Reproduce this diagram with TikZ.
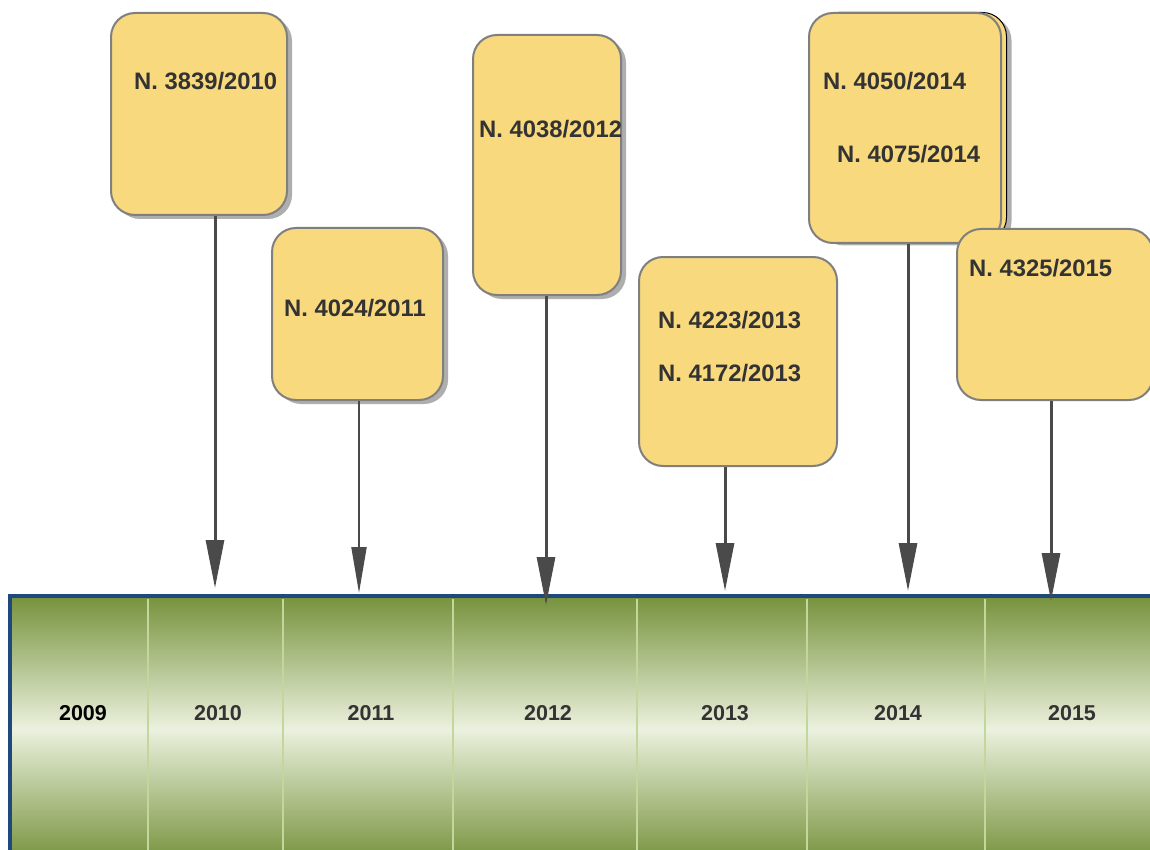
\documentclass[tikz,border=0pt]{standalone}
\usepackage{fontspec}
\setmainfont{Liberation Sans}
\usetikzlibrary{arrows.meta,shadows}
\definecolor{boxfill}{HTML}{F9D97E}
\definecolor{boxline}{HTML}{7F7F7F}
\definecolor{arr}{HTML}{4A4A4A}
\definecolor{barblue}{HTML}{1F497D}
\definecolor{bargreen}{HTML}{76923C}
\definecolor{barpale}{HTML}{EBF1DE}
\definecolor{divline}{HTML}{C3D69B}
\definecolor{txt}{HTML}{333333}
\tikzset{
  cardbox/.style={draw=boxline, line width=2pt, fill=boxfill, rounded corners=24pt,
    inner sep=0pt, anchor=north west},
  cardshadow/.style={drop shadow={shadow xshift=5pt, shadow yshift=-4pt, fill=gray!70, opacity=0.9}},
  backcard/.style={draw=black, line width=1pt, fill=boxfill, rounded corners=24pt,
    inner sep=0pt, anchor=north west},
  ntext/.style={text=txt, font=\bfseries\fontsize{23.8}{28}\selectfont, anchor=west, inner sep=0pt},
  ytext/.style={text=txt, font=\bfseries\fontsize{21.5}{25}\selectfont, inner sep=0pt},
  conn/.style={draw=arr, line width=3pt, -{Triangle[length=48pt,width=18pt]}},
  connthin/.style={draw=arr, line width=2pt, -{Triangle[length=46pt,width=15pt]}},
  divider/.style={draw=divline, line width=1.2pt}
}
\begin{document}
\begin{tikzpicture}[x=1pt,y=-1pt]
\clip (0,0) rectangle (1150,850);
\fill[white] (0,0) rectangle (1150,850);

% timeline bar
\path[top color=bargreen, bottom color=bargreen, middle color=barpale] (10,596) rectangle (1165,862);
\foreach \x in {148,283,453,637,807,985}{\draw[divider] (\x,599) -- (\x,850);}
\draw[barblue, line width=4pt] (10,870) -- (10,596) -- (1165,596);

% year labels
\node[ytext, text=black] (y2009) at (83,713) {2009};
\node[ytext] (y2010) at (218,713) {2010};
\node[ytext] (y2011) at (371,713) {2011};
\node[ytext] (y2012) at (548,713) {2012};
\node[ytext] (y2013) at (725,713) {2013};
\node[ytext] (y2014) at (898,713) {2014};
\node[ytext] (y2015) at (1072,713) {2015};

% arrow end points
\coordinate (e2010) at (215,588);
\coordinate (e2011) at (359,593);
\coordinate (e2012) at (546,605);
\coordinate (e2013) at (725,591);
\coordinate (e2014) at (908,591);
\coordinate (e2015) at (1051,601);

% cards
\node[cardbox, cardshadow, minimum width=176pt, minimum height=202pt] (b2010) at (110,12) {};
\node[cardbox, cardshadow, minimum width=171pt, minimum height=172pt] (b2011) at (271,227) {};
\node[cardbox, cardshadow, minimum width=148pt, minimum height=260pt] (b2012) at (472,34) {};
\node[cardbox, minimum width=198pt, minimum height=209pt] (b2013) at (638,256) {};
\node[backcard, cardshadow, minimum width=192pt, minimum height=229pt] (b2014back) at (814,12) {};
\node[cardbox, minimum width=192pt, minimum height=230pt] (b2014) at (808,12) {};

% connectors
\draw[conn] (b2010.south -| e2010) -- (e2010);
\draw[connthin] (b2011.south -| e2011) -- (e2011);
\draw[conn] (b2012.south -| e2012) -- (e2012);
\draw[conn] (b2013.south -| e2013) -- (e2013);
\draw[conn] (b2014.south -| e2014) -- (e2014);

\node[cardbox, minimum width=196pt, minimum height=171pt] (b2015) at (956,228) {};
\draw[conn] (b2015.south -| e2015) -- (e2015);

% texts
\node[ntext] (t3839) at (134,81) {N. 3839/2010};
\node[ntext] (t4024) at (284,308) {N. 4024/2011};
\node[ntext] (t4038) at (479,129) {N. 4038/2012};
\node[ntext] (t4223) at (658,320) {N. 4223/2013};
\node[ntext] (t4172) at (658,373) {N. 4172/2013};
\node[ntext] (t4050) at (823,81) {N. 4050/2014};
\node[ntext] (t4075) at (837,154) {N. 4075/2014};
\node[ntext] (t4325) at (969,268) {N. 4325/2015};
\end{tikzpicture}
\end{document}
